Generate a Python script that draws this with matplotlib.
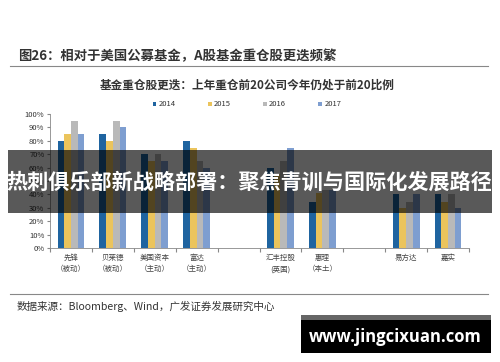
import numpy as np
import matplotlib.pyplot as plt
from matplotlib.patches import Rectangle

plt.rcParams['font.family'] = ['Noto Sans CJK SC', 'DejaVu Sans']

# 数据
categories = ['先锋\n（被动）', '贝莱德\n（被动）', '美国资本\n（主动）', '富达\n（主动）', '',
              '汇丰控股\n(英国)', '惠理\n（本土）', '', '易方达', '嘉实']
years = ['2014', '2015', '2016', '2017']
v2014 = [0.80, 0.85, 0.70, 0.80, np.nan, 0.60, 0.34, np.nan, 0.40, 0.40]
v2015 = [0.85, 0.80, 0.65, 0.75, np.nan, 0.55, 0.41, np.nan, 0.30, 0.34]
v2016 = [0.95, 0.95, 0.70, 0.65, np.nan, 0.65, 0.43, np.nan, 0.34, 0.40]
v2017 = [0.85, 0.90, 0.65, 0.60, np.nan, 0.75, 0.43, np.nan, 0.40, 0.30]
colors = ['#1F64A0', '#EBC45C', '#B9B9B9', '#7E9ED0']

fig = plt.figure(figsize=(5, 3.62), dpi=100)
fig.patch.set_facecolor('white')

ax = fig.add_axes([0.1, 1 - 248 / 362, 419 / 500, 134 / 362])
x = np.arange(len(categories))
w = 0.16
for i, (vals, c, lab) in enumerate(zip([v2014, v2015, v2016, v2017], colors, years)):
    ax.bar(x + (i - 1.5) * w, vals, w, color=c, label=lab, linewidth=0)

ax.set_xlim(-0.5, len(categories) - 0.5)
ax.set_ylim(0, 1.0)
ax.set_yticks(np.arange(0, 1.01, 0.1))
ax.set_yticklabels([f'{int(round(t * 100))}%' for t in np.arange(0, 1.01, 0.1)],
                   fontsize=5.5, color='#333333')
ax.set_xticks(np.arange(-0.5, len(categories), 1))
ax.set_xticklabels([])
ax.set_xticks(x, minor=True)
ax.set_xticklabels(categories, minor=True, fontsize=5.4, color='#444444', linespacing=1.6)
ax.tick_params(axis='x', which='minor', length=0, pad=4)
ax.tick_params(axis='x', which='major', length=3, color='#888888')
ax.tick_params(axis='y', length=2, color='#888888', pad=2)
for s in ['top', 'right']:
    ax.spines[s].set_visible(False)
ax.spines['left'].set_color('#888888')
ax.spines['bottom'].set_color('#888888')
ax.spines['left'].set_linewidth(0.6)
ax.spines['bottom'].set_linewidth(0.6)

ax.legend(loc='lower center', bbox_to_anchor=(0.47, 0.99), ncol=4, frameon=False,
          fontsize=5.5, handlelength=0.5, handleheight=0.5, handletextpad=0.3,
          columnspacing=4.2, labelcolor='#333333')

# 标题与分隔线
fig.text(18 / 500, 1 - 56 / 362, '图26：相对于美国公募基金，A股基金重仓股更迭频繁',
         fontsize=9.6, fontweight='bold', color='#333333', va='center', ha='left')
fig.add_artist(plt.Line2D([10 / 500, 488 / 500], [1 - 66 / 362] * 2, color='#888888', lw=0.8))
fig.text(247 / 500, 1 - 85 / 362, '基金重仓股更迭：上年重仓前20公司今年仍处于前20比例',
         fontsize=8.4, fontweight='bold', color='#333333', va='center', ha='center')

fig.add_artist(plt.Line2D([10 / 500, 488 / 500], [1 - 294 / 362] * 2, color='#888888', lw=0.8))
fig.text(17 / 500, 1 - 306 / 362, '数据来源：Bloomberg、Wind，广发证券发展研究中心',
         fontsize=7.6, color='#333333', va='center', ha='left')

# 横幅
fig.add_artist(Rectangle((8 / 500, 1 - 213 / 362), 484 / 500, 63 / 362,
                         transform=fig.transFigure, facecolor='black', alpha=0.65,
                         linewidth=0, zorder=10))
fig.text(249 / 500, 1 - 182 / 362, '热刺俱乐部新战略部署：聚焦青训与国际化发展路径',
         fontsize=15.2, fontweight='bold', color='white', va='center', ha='center', zorder=11)

# 水印
fig.add_artist(Rectangle((301 / 500, 1 - 353 / 362), 190 / 500, 38 / 362,
                         transform=fig.transFigure, facecolor='black', linewidth=0, zorder=10))
fig.add_artist(Rectangle((301 / 500, 1 - 320 / 362), 190 / 500, 5 / 362,
                         transform=fig.transFigure, facecolor='#666666', linewidth=0, zorder=10))
fig.text(395 / 500, 1 - 337 / 362, 'www.jingcixuan.com', fontsize=12, fontweight='bold',
         color='white', va='center', ha='center', zorder=11, family=['Open Sans', 'DejaVu Sans'])

fig.savefig('out.png', dpi=100)
